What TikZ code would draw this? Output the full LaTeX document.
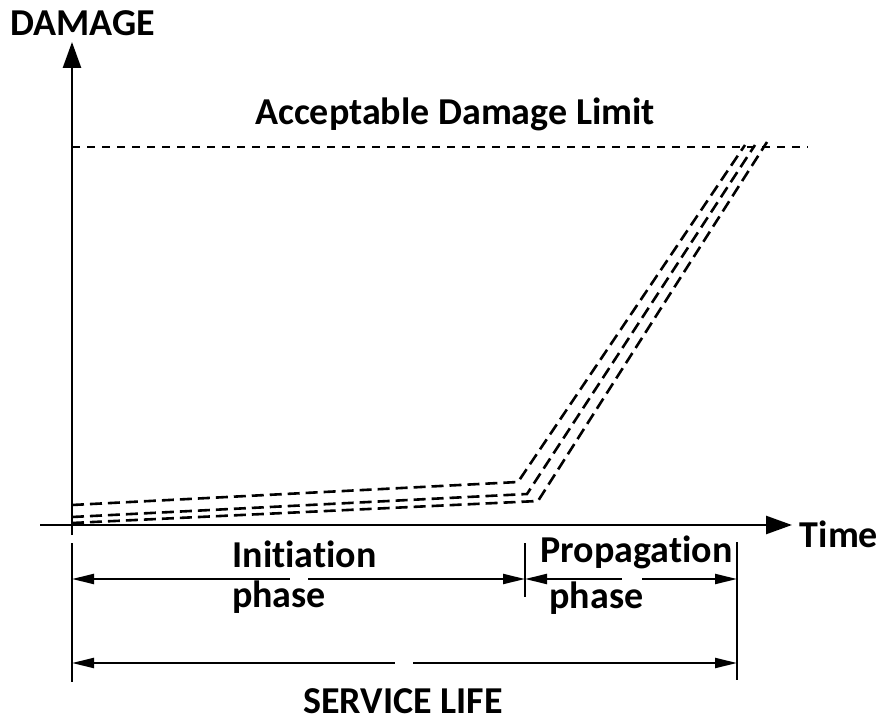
\documentclass[tikz,border=0pt]{standalone}
\usepackage{fontspec}
\setmainfont{Carlito}[Ligatures=NoCommon]
\usetikzlibrary{arrows.meta}
\begin{document}
\begin{tikzpicture}[x=1pt,y=-1pt,
  lbl/.style={font=\fontsize{38}{44}\selectfont\bfseries,inner sep=0pt,anchor=base},
  axis/.style={line width=2.6pt},
  dim/.style={line width=2.2pt},
  curve/.style={line width=2.6pt,dash pattern=on 12pt off 6pt},
  limit/.style={line width=2.2pt,dash pattern=on 8pt off 7pt},
  bigtip/.style={-{Triangle[length=26pt,width=18pt]}},
  dtip/.style={{Triangle[length=22pt,width=10pt]}-},
  ttip/.style={-{Triangle[length=22pt,width=10pt]}}]
\useasboundingbox (0,0) rectangle (883,719);
% coordinates
\coordinate (ybot) at (72,535);
\coordinate (ytop) at (72,42);
\coordinate (xl) at (40,525);
\coordinate (xr) at (792,525);
\coordinate (l1) at (72,147);
\coordinate (l2) at (808,147);
\coordinate (a0) at (72,505);
\coordinate (a1) at (518,482);
\coordinate (a2) at (745,145);
\coordinate (b0) at (72,517);
\coordinate (b1) at (527,494);
\coordinate (b2) at (755,145);
\coordinate (c0) at (72,523);
\coordinate (c1) at (538,501);
\coordinate (c2) at (767,142);
\coordinate (v1t) at (72,543);
\coordinate (v1b) at (72,682);
\coordinate (v2t) at (525,543);
\coordinate (v2b) at (525,597);
\coordinate (v3t) at (737,542);
\coordinate (v3b) at (737,680);
\coordinate (r1a) at (72,579);
\coordinate (r1b) at (290,579);
\coordinate (r1c) at (308,579);
\coordinate (r1d) at (525,579);
\coordinate (r1e) at (622,579);
\coordinate (r1f) at (642,579);
\coordinate (r1g) at (737,579);
\coordinate (r2a) at (72,663);
\coordinate (r2b) at (395,663);
\coordinate (r2c) at (413,663);
\coordinate (r2d) at (737,663);
% axes
\draw[axis,bigtip] (ybot) -- (ytop);
\draw[axis,bigtip] (xl) -- (xr);
% limit
\draw[limit] (l1) -- (l2);
% curves
\draw[curve] (a0) -- (a1) -- (a2);
\draw[curve] (b0) -- (b1) -- (b2);
\draw[curve] (c0) -- (c1) -- (c2);
% dimension verticals
\draw[axis] (v1t) -- (v1b);
\draw[axis] (v2t) -- (v2b);
\draw[axis] (v3t) -- (v3b);
% dimension rows
\draw[dim,dtip] (r1a) -- (r1b);
\draw[dim,ttip] (r1c) -- (r1d);
\draw[dim,dtip] (r1d) -- (r1e);
\draw[dim,ttip] (r1f) -- (r1g);
\draw[dim,dtip] (r2a) -- (r2b);
\draw[dim,ttip] (r2c) -- (r2d);
% labels
\node[lbl] (damage) at (82.5,36) {DAMAGE};
\node[lbl] (adl) at (455,125) {Acceptable Damage Limit};
\node[lbl] (time) at (839,547) {Time};
\node[lbl] (init) at (304.5,567) {Initiation};
\node[lbl] (ph1) at (279,607) {phase};
\node[lbl] (prop) at (636.5,562) {Propagation};
\node[lbl] (ph2) at (596.5,608) {phase};
\node[lbl] (sl) at (403,713) {SERVICE LIFE};
\end{tikzpicture}
\end{document}
